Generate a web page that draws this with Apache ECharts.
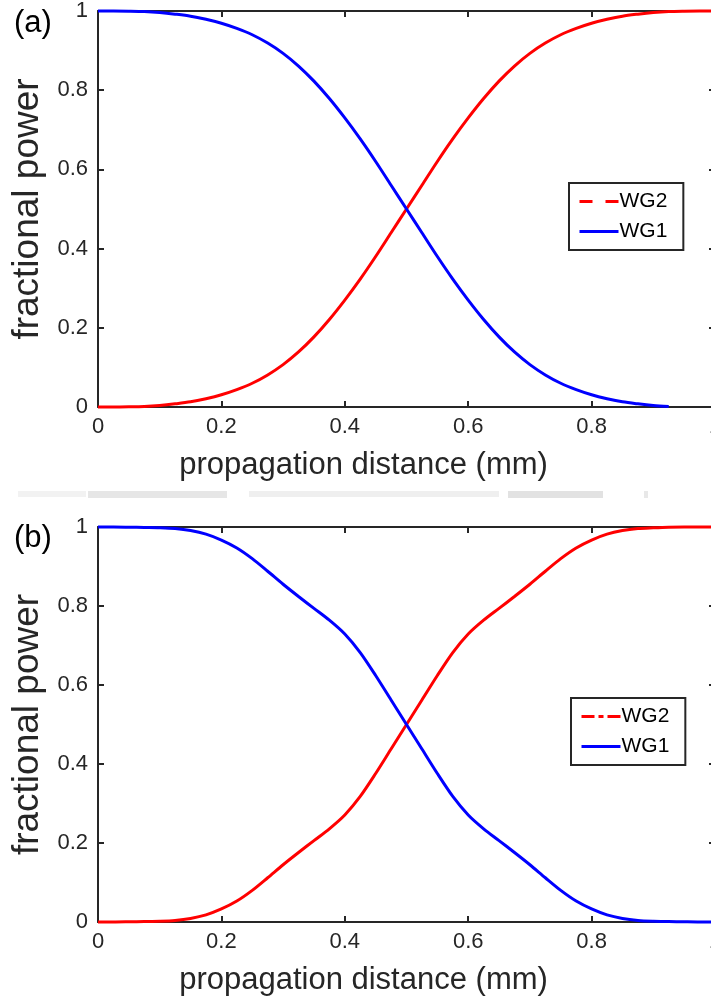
<!DOCTYPE html>
<html>
<head>
<meta charset="utf-8">
<script src="https://cdn.jsdelivr.net/npm/echarts@6/dist/echarts.min.js"></script>
<style>
html,body{margin:0;padding:0;background:#fff;}
#c{width:711px;height:1005px;}
</style>
</head>
<body>
<div id="c"></div>
<script>
// ---- data ----
const xTicks = [0, 0.2, 0.4, 0.6, 0.8, 1];
const yTicks = [0, 0.2, 0.4, 0.6, 0.8, 1];
const xTitle = 'propagation distance (mm)';
const yTitle = 'fractional power';
const panelLabels = ['(a)', '(b)'];
const seriesNames = ['WG2', 'WG1'];

// propagation distance samples (mm), shared by both panels
const distX = [0, 0.025, 0.05, 0.075, 0.1, 0.125, 0.15, 0.175, 0.2, 0.225, 0.25, 0.275, 0.3, 0.325, 0.35, 0.375, 0.4, 0.425, 0.45, 0.475, 0.5,
               0.525, 0.55, 0.575, 0.6, 0.625, 0.65, 0.675, 0.7, 0.725, 0.75, 0.775, 0.8, 0.825, 0.85, 0.875, 0.9, 0.925, 0.95, 0.975, 1];

// panel (a)
const topWG2 = [0, 0, 0.0005, 0.0015, 0.004, 0.008, 0.013, 0.021, 0.031, 0.044, 0.06, 0.081, 0.107, 0.139, 0.177, 0.221, 0.27, 0.323, 0.38, 0.44, 0.5,
                0.56, 0.62, 0.677, 0.73, 0.779, 0.823, 0.861, 0.893, 0.919, 0.94, 0.956, 0.969, 0.979, 0.987, 0.992, 0.996, 0.9985, 0.9995, 1, 1];
const topWG1 = [1, 1, 0.9995, 0.9985, 0.996, 0.992, 0.987, 0.979, 0.969, 0.956, 0.94, 0.919, 0.893, 0.861, 0.823, 0.779, 0.73, 0.677, 0.62, 0.56, 0.5,
                0.44, 0.38, 0.323, 0.27, 0.221, 0.177, 0.139, 0.107, 0.081, 0.06, 0.044, 0.031, 0.021, 0.013, 0.008, 0.004, 0.0015, null, null, null];

// panel (b)
const botWG2 = [0, 0, 0.0005, 0.0012, 0.002, 0.004, 0.009, 0.018, 0.033, 0.053, 0.08, 0.112, 0.145, 0.176, 0.206, 0.236, 0.271, 0.318, 0.376, 0.438, 0.5,
                0.562, 0.624, 0.682, 0.729, 0.764, 0.794, 0.824, 0.855, 0.888, 0.92, 0.947, 0.967, 0.982, 0.991, 0.996, 0.998, 0.9995, 1, 1, 1];
const botWG1 = [1, 1, 0.9995, 0.9988, 0.998, 0.996, 0.991, 0.982, 0.967, 0.947, 0.92, 0.888, 0.855, 0.824, 0.794, 0.764, 0.729, 0.682, 0.624, 0.562, 0.5,
                0.438, 0.376, 0.318, 0.271, 0.236, 0.206, 0.176, 0.145, 0.112, 0.08, 0.053, 0.033, 0.018, 0.009, 0.004, 0.002, 0.0012, 0.0005, 0, 0];

// ---- chart ----
const FONT = '"Liberation Sans", Helvetica, Arial, sans-serif';
const AX = '#262626';
const zip = (xs, ys) => xs.map((x, i) => [x, ys[i]]);
const fmt = v => (v === 0 ? '0' : v === 1 ? '1' : v.toFixed(1));

function axisBase(extra) {
  return Object.assign({
    type: 'value', min: xTicks[0], max: xTicks[xTicks.length - 1], interval: 0.2,
    splitLine: { show: false },
    axisLine: { show: true, onZero: false, lineStyle: { color: AX, width: 2 } },
    axisTick: { show: true, inside: true, length: 6, lineStyle: { color: AX, width: 2 } },
    axisLabel: { show: false }
  }, extra);
}
const labelStyle = { show: true, color: AX, fontSize: 22, fontFamily: FONT, formatter: fmt };

const grids = [
  { left: 98, top: 11, width: 617, height: 396, outerBoundsMode: 'none', containLabel: false },
  { left: 98, top: 527, width: 617, height: 395, outerBoundsMode: 'none', containLabel: false }
];

const xAxes = [], yAxes = [];
[0, 1].forEach(g => {
  xAxes.push(axisBase({
    gridIndex: g, position: 'bottom',
    axisLabel: Object.assign({ margin: 9 }, labelStyle),
    name: xTitle, nameLocation: 'middle', nameGap: 43,
    nameTextStyle: { color: AX, fontSize: 31, fontFamily: FONT, padding: [0, 86, 0, 0] }
  }));
  xAxes.push(axisBase({ gridIndex: g, position: 'top' }));
  yAxes.push(axisBase({
    gridIndex: g, position: 'left',
    min: yTicks[0], max: yTicks[yTicks.length - 1],
    axisLabel: Object.assign({ margin: 10 }, labelStyle),
    name: yTitle, nameLocation: 'middle', nameGap: 51,
    nameTextStyle: { color: AX, fontSize: 37, fontFamily: FONT }
  }));
  yAxes.push(axisBase({ gridIndex: g, position: 'right', min: yTicks[0], max: yTicks[yTicks.length - 1] }));
});

function line(name, g, xs, ys, color) {
  return {
    name: name, type: 'line', xAxisIndex: g * 2, yAxisIndex: g * 2,
    data: zip(xs, ys), showSymbol: false, symbol: 'none',
    smooth: 0.3, connectNulls: false, clip: false,
    lineStyle: { color: color, width: 3 }, itemStyle: { color: color },
    animation: false, z: 3
  };
}

function legend(top, left, dash) {
  const hide = { opacity: 0, color: 'rgba(0,0,0,0)', borderWidth: 0 };
  return {
    orient: 'vertical', left: left, top: top,
    data: [
      { name: seriesNames[0], lineStyle: { type: dash, width: 3 }, itemStyle: hide },
      { name: seriesNames[1], lineStyle: { type: 'solid', width: 3 }, itemStyle: hide }
    ],
    itemWidth: 39, itemHeight: 22, itemGap: 9,
    padding: [8, 16, 8, 9],
    borderColor: AX, borderWidth: 2, backgroundColor: '#fff',
    textStyle: { color: '#000', fontSize: 21, fontFamily: FONT, padding: [0, 0, 0, -4] },
    selectedMode: false
  };
}

const option = {
  animation: false,
  backgroundColor: '#fff',
  grid: grids,
  xAxis: xAxes,
  yAxis: yAxes,
  legend: [legend(183, 569, [13, 13]), legend(698, 571, [13, 4, 5, 4])],
  series: [
    line(seriesNames[0], 0, distX, topWG2, '#ff0000'),
    line(seriesNames[1], 0, distX, topWG1, '#0000ff'),
    line(seriesNames[0], 1, distX, botWG2, '#ff0000'),
    line(seriesNames[1], 1, distX, botWG1, '#0000ff')
  ],
  graphic: [
    { type: 'text', left: 14, top: 8, style: { text: panelLabels[0], fill: '#000', font: '31px ' + FONT } },
    { type: 'text', left: 14, top: 523, style: { text: panelLabels[1], fill: '#000', font: '31px ' + FONT } },
    { type: 'rect', shape: { x: 18, y: 491, width: 68, height: 6 }, style: { fill: '#f2f2f2' }, silent: true },
    { type: 'rect', shape: { x: 88, y: 491, width: 139, height: 7 }, style: { fill: '#e6e6e6' }, silent: true },
    { type: 'rect', shape: { x: 249, y: 491, width: 250, height: 6 }, style: { fill: '#efefef' }, silent: true },
    { type: 'rect', shape: { x: 508, y: 491, width: 95, height: 7 }, style: { fill: '#e2e2e2' }, silent: true },
    { type: 'rect', shape: { x: 644, y: 491, width: 4, height: 7 }, style: { fill: '#e8e8e8' }, silent: true }
  ]
};

const chart = echarts.init(document.getElementById('c'), null, { renderer: 'canvas' });
chart.setOption(option);
</script>
</body>
</html>
